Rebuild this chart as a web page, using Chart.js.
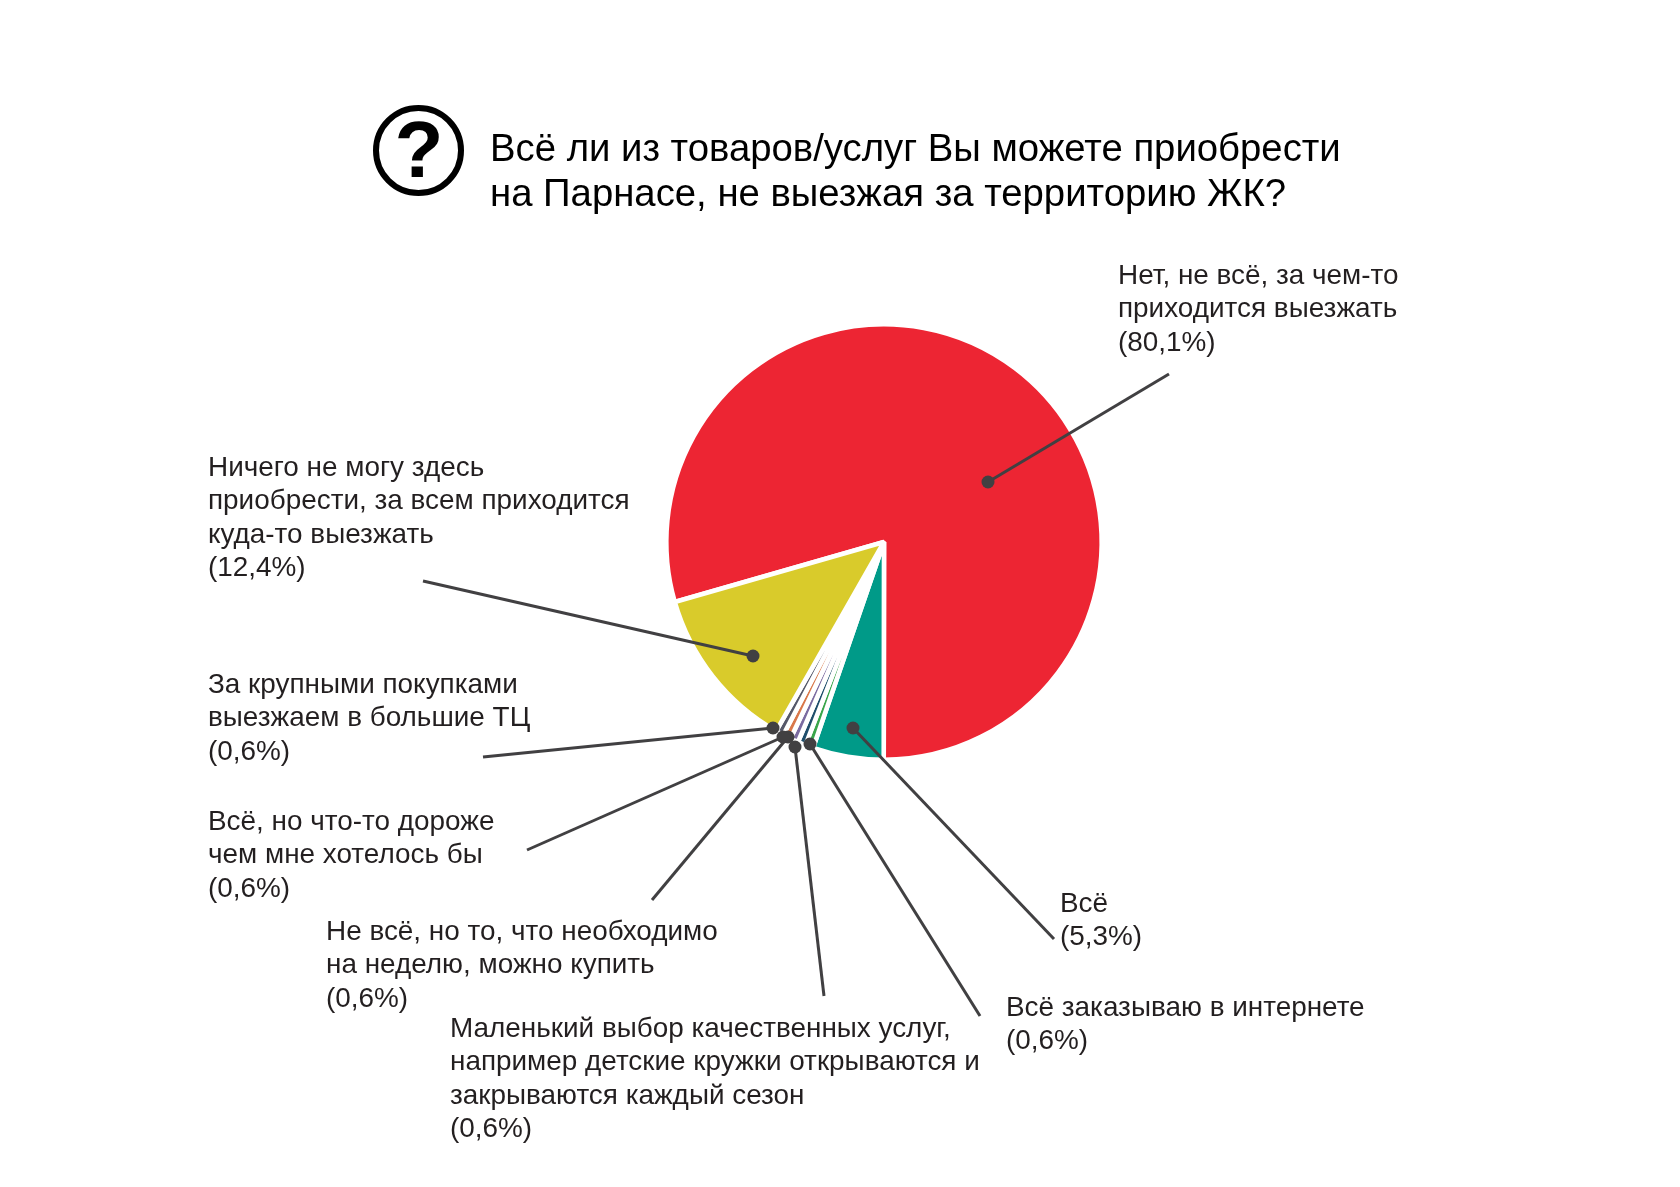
<!DOCTYPE html>
<html>
<head>
<meta charset="utf-8">
<script src="https://cdn.jsdelivr.net/npm/chart.js@4"></script>
<style>
  html, body { margin: 0; padding: 0; background: #fff; }
  canvas { display: block; }
</style>
</head>
<body>
<canvas id="pie" width="1680" height="1187"></canvas>
<script>
const titleLines = [
    'Всё ли из товаров/услуг Вы можете приобрести',
    'на Парнасе, не выезжая за территорию ЖК?'
];

const categories = [
    ['Нет, не всё, за чем-то', 'приходится выезжать'],
    ['Всё'],
    ['Всё заказываю в интернете'],
    ['Маленький выбор качественных услуг,', 'например детские кружки открываются и', 'закрываются каждый сезон'],
    ['Не всё, но то, что необходимо', 'на неделю, можно купить'],
    ['Всё, но что-то дороже', 'чем мне хотелось бы'],
    ['За крупными покупками', 'выезжаем в большие ТЦ'],
    ['Ничего не могу здесь', 'приобрести, за всем приходится', 'куда-то выезжать']
];
const shares = [80.1, 5.3, 0.6, 0.6, 0.6, 0.6, 0.6, 12.4];
const shareLabels = ['(80,1%)', '(5,3%)', '(0,6%)', '(0,6%)', '(0,6%)', '(0,6%)', '(0,6%)', '(12,4%)'];

const colors = ['#ed2533', '#009a88', '#3aa54a', '#1f4e6b', '#7b6ba0', '#d9784a', '#55586a', '#d9cb2b'];

// callout layout, same order as categories: text x, first baseline, leader start, dot
const callouts = [
    { x: 1118, y: 284, from: [1169, 374], dot: [988, 482] },
    { x: 1060, y: 912, from: [1054, 939], dot: [853, 728] },
    { x: 1006, y: 1016, from: [980, 1016], dot: [810, 744] },
    { x: 450, y: 1037, from: [824, 996], dot: [795, 747] },
    { x: 326, y: 940, from: [652, 900], dot: [788, 737] },
    { x: 208, y: 830, from: [527, 850], dot: [783, 737] },
    { x: 208, y: 693, from: [483, 757], dot: [773, 728] },
    { x: 208, y: 476, from: [423, 581], dot: [753, 656] }
];

const textColor = '#231f20';
const leaderColor = '#414042';

const calloutPlugin = {
    id: 'callouts',
    afterDraw(chart) {
        const ctx = chart.ctx;
        ctx.save();

        // question mark badge
        ctx.strokeStyle = '#000';
        ctx.lineWidth = 6;
        ctx.beginPath();
        ctx.arc(418.5, 150.5, 42.5, 0, Math.PI * 2);
        ctx.stroke();
        ctx.fillStyle = '#000';
        ctx.font = 'bold 80px "Liberation Sans"';
        ctx.textAlign = 'center';
        ctx.textBaseline = 'alphabetic';
        ctx.fillText('?', 419, 177);

        ctx.textAlign = 'left';
        ctx.font = '38.3px "Liberation Sans"';
        titleLines.forEach((line, i) => ctx.fillText(line, 490, 161 + i * 45));

        ctx.fillStyle = textColor;
        ctx.font = '27.9px "Liberation Sans"';
        callouts.forEach((c, i) => {
            const lines = categories[i].concat(shareLabels[i]);
            lines.forEach((line, j) => ctx.fillText(line, c.x, c.y + j * 33.4));
        });

        ctx.strokeStyle = leaderColor;
        ctx.fillStyle = leaderColor;
        ctx.lineWidth = 3;
        callouts.forEach(c => {
            ctx.beginPath();
            ctx.moveTo(c.from[0], c.from[1]);
            ctx.lineTo(c.dot[0], c.dot[1]);
            ctx.stroke();
            ctx.beginPath();
            ctx.arc(c.dot[0], c.dot[1], 6.5, 0, Math.PI * 2);
            ctx.fill();
        });
        ctx.restore();
    }
};

new Chart(document.getElementById('pie').getContext('2d'), {
    type: 'pie',
    data: {
        labels: categories.map(c => c.join(' ')),
        datasets: [{
            data: shares,
            backgroundColor: colors,
            borderColor: '#fff',
            borderWidth: 4.6
        }]
    },
    options: {
        responsive: false,
        animation: false,
        rotation: 254,
        layout: { padding: { left: 664, right: 576, top: 322, bottom: 425 } },
        plugins: {
            legend: { display: false },
            tooltip: { enabled: false }
        }
    },
    plugins: [calloutPlugin]
});
</script>
</body>
</html>
